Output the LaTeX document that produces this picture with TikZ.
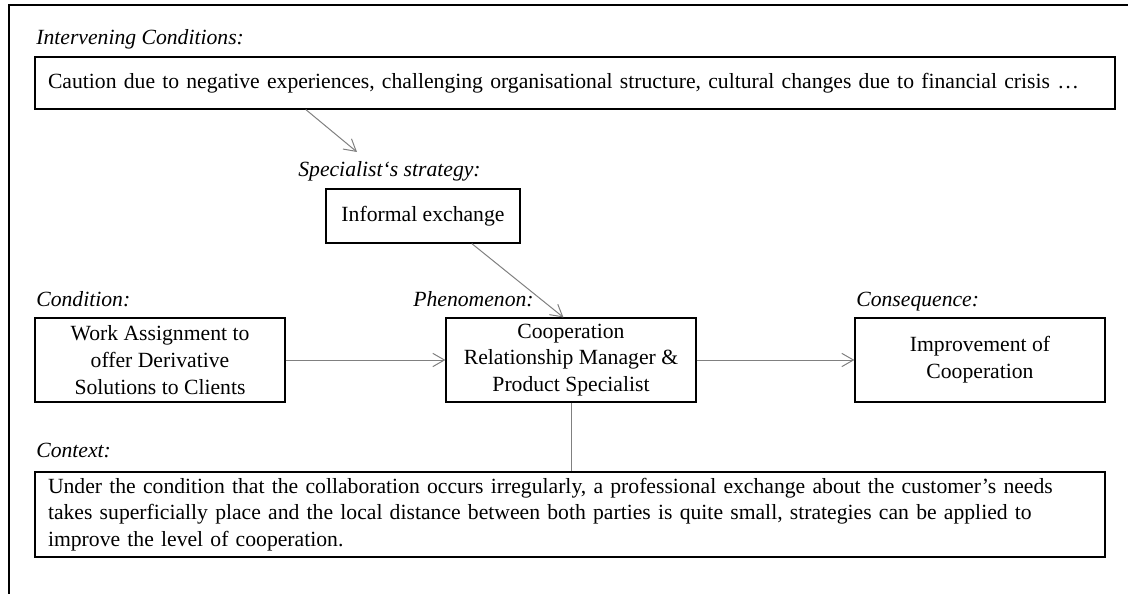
\documentclass[tikz,border=0pt]{standalone}
\usepackage{fontspec}
\setmainfont{Liberation Serif}
\usetikzlibrary{arrows.meta,calc}

\begin{document}
\begin{tikzpicture}[x=0.6pt,y=-0.6pt,
    font=\fontsize{13pt}{16pt}\selectfont,
    box/.style={draw,line width=0.7pt,inner sep=0pt,minimum width=150pt,minimum height=50.4pt,align=center},
    wide/.style={draw,line width=0.7pt,inner ysep=0pt,inner xsep=7.8pt,align=left},
    lbl/.style={anchor=base west,inner sep=0pt,font=\fontsize{13pt}{16pt}\selectfont\itshape},
    arr/.style={draw=gray,line width=0.6pt,-{Straight Barb[length=7pt,width=8pt]}}]
    \useasboundingbox (0,0) rectangle (1128,594);
    \draw[line width=1.2pt] (8.5,594) -- (8.5,5.5) -- (1128,5.5);

    \node[lbl] (ic) at (36,45) {Intervening Conditions:};
    \node[wide,text width=632.4pt,minimum height=31.2pt] (cau) at (575,83)
      {Caution due to negative experiences, challenging organisational structure, cultural changes due to financial crisis …};

    \node[lbl] (ss) at (298,177) {Specialist‘s strategy:};
    \node[box,minimum width=116.4pt,minimum height=32.4pt] (inf) at (423,216) {Informal exchange};

    \node[lbl] (cl) at (36,307) {Condition:};
    \node[lbl] (pl) at (413,307) {Phenomenon:};
    \node[lbl] (ql) at (856,307) {Consequence:};
    \node[box] (cond) at (160,360) {Work Assignment to\\offer Derivative\\Solutions to Clients};
    \node[box] (phen) at (571,360) {Cooperation\\Relationship Manager \&\\Product Specialist};
    \node[box] (cons) at (980,360) {Improvement of\\Cooperation};

    \node[lbl] (xl) at (36,457) {Context:};
    \node[wide,text width=626.4pt,minimum height=51pt] (ctx) at (570,514.5)
      {Under the condition that the collaboration occurs irregularly, a professional exchange about the customer’s needs\\
       takes superficially place and the local distance between both parties is quite small, strategies can be applied to\\
       improve the level of cooperation.};

    \coordinate (a1) at ($(cau.south west)!0.251!(cau.south east)$);
    \coordinate (a2) at (357,152);
    \coordinate (b1) at ($(inf.south west)!0.75!(inf.south east)$);
    \coordinate (b2) at ($(phen.north west)!0.47!(phen.north east)$);

    \draw[arr] (a1) -- (a2);
    \draw[arr] (b1) -- (b2);
    \draw[arr] (cond) -- (phen);
    \draw[arr] (phen) -- (cons);
    \draw[draw=gray,line width=0.6pt] (phen.south) -- (phen.south |- ctx.north);
\end{tikzpicture}
\end{document}
